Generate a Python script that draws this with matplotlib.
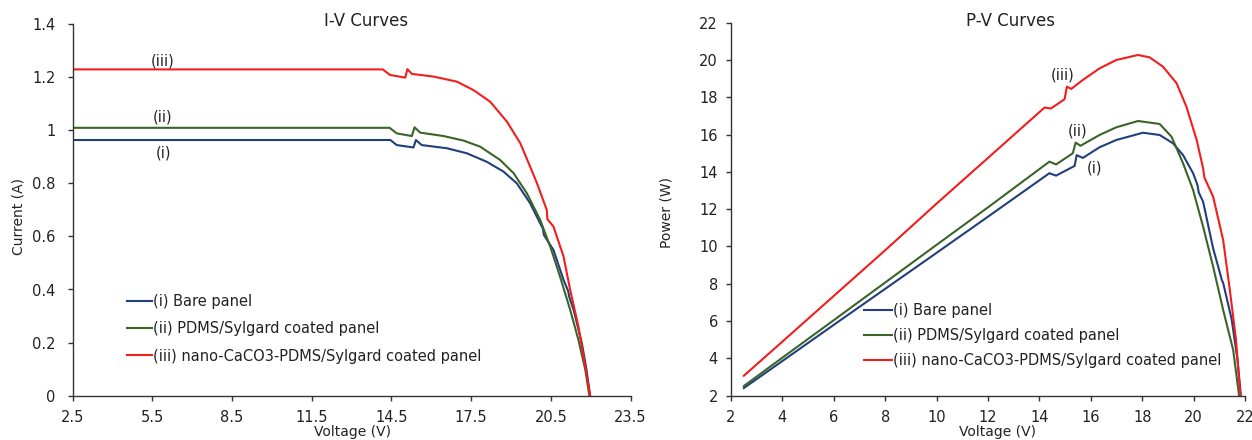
import matplotlib
matplotlib.use("Agg")
import matplotlib.pyplot as plt
from matplotlib.ticker import FuncFormatter

# ---------------- data ----------------
iv_bare_v = [2.5, 14.46, 14.7, 15.33, 15.42, 15.64, 16.59, 17.34, 18.09, 18.72, 19.22, 19.72,
             20.1, 20.2, 20.24, 20.6, 20.98, 21.15, 21.2, 21.36, 21.67, 21.84, 21.98]
iv_bare_i = [0.963, 0.963, 0.944, 0.935, 0.963, 0.944, 0.932, 0.913, 0.881, 0.844, 0.800, 0.725,
             0.649, 0.630, 0.605, 0.549, 0.436, 0.395, 0.37, 0.323, 0.197, 0.100, 0.0]

iv_pdms_v = [2.5, 14.43, 14.7, 15.27, 15.37, 15.58, 16.46, 17.21, 17.84, 18.59, 19.1, 19.6,
             20.1, 20.48, 20.85, 21.23, 21.54, 21.8, 21.95]
iv_pdms_i = [1.009, 1.009, 0.988, 0.978, 1.011, 0.991, 0.978, 0.961, 0.938, 0.888, 0.838, 0.762,
             0.662, 0.561, 0.448, 0.323, 0.210, 0.097, 0.0]

iv_nano_v = [2.5, 14.17, 14.45, 15.02, 15.1, 15.27, 16.08, 16.96, 17.59, 18.22, 18.85, 19.35,
             19.72, 19.98, 20.35, 20.37, 20.6, 20.98, 21.23, 21.54, 21.8, 21.98]
iv_nano_i = [1.229, 1.229, 1.208, 1.198, 1.230, 1.212, 1.202, 1.183, 1.151, 1.107, 1.032, 0.951,
             0.863, 0.800, 0.699, 0.665, 0.637, 0.524, 0.398, 0.260, 0.109, 0.0]

pv_bare_v = [2.5, 4, 6, 8, 10, 12, 14.39, 14.65, 15.37, 15.45, 15.69, 16.34, 16.99, 18.03, 18.68,
             19.2, 19.59, 19.98, 20.15, 20.2, 20.37, 20.76, 21.1, 21.15, 21.48, 21.71, 21.84]
pv_bare_p = [2.41, 3.86, 5.8, 7.73, 9.66, 11.6, 13.93, 13.8, 14.32, 14.9, 14.75, 15.32, 15.71, 16.1,
             15.98, 15.53, 14.9, 13.93, 13.3, 12.9, 12.4, 9.9, 8.2, 8.05, 6.1, 3.91, 2.0]

pv_pdms_v = [2.5, 4, 6, 8, 10, 12, 14.39, 14.65, 15.3, 15.41, 15.6, 16.34, 16.99, 17.84, 18.68,
             19.14, 19.59, 19.98, 20.37, 20.76, 21.15, 21.54, 21.77]
pv_pdms_p = [2.52, 4.04, 6.05, 8.07, 10.09, 12.1, 14.55, 14.4, 15.0, 15.57, 15.4, 15.98, 16.39,
             16.73, 16.57, 15.89, 14.46, 13.03, 11.06, 8.92, 6.6, 4.45, 2.0]

pv_nano_v = [2.5, 4, 6, 8, 10, 12, 14.2, 14.45, 14.98, 15.07, 15.24, 15.69, 16.34, 16.99, 17.84,
             18.29, 18.81, 19.34, 19.72, 20.12, 20.37, 20.42, 20.76, 21.15, 21.41, 21.65, 21.82]
pv_nano_p = [3.07, 4.9, 7.35, 9.8, 12.3, 14.75, 17.45, 17.4, 17.9, 18.57, 18.45, 18.93, 19.55, 20.0,
             20.27, 20.14, 19.64, 18.75, 17.5, 15.71, 14.19, 13.7, 12.67, 10.35, 7.67, 4.99, 2.0]

labels = ["(i) Bare panel", "(ii) PDMS/Sylgard coated panel",
          "(iii) nano-CaCO3-PDMS/Sylgard coated panel"]
iv_xticks = [2.5, 5.5, 8.5, 11.5, 14.5, 17.5, 20.5, 23.5]
iv_yticks = [0, 0.2, 0.4, 0.6, 0.8, 1.0, 1.2, 1.4]
pv_xticks = [2, 4, 6, 8, 10, 12, 14, 16, 18, 20, 22]
pv_yticks = [2, 4, 6, 8, 10, 12, 14, 16, 18, 20, 22]

# ---------------- style ----------------
W, H = 1252, 440
c_blue, c_green, c_red = "#203f7c", "#3a6428", "#f51c1c"
fs = 10.5
plt.rcParams["font.family"] = ["DejaVu Sans"]
plt.rcParams["text.color"] = "#222222"

fig = plt.figure(figsize=(W / 100, H / 100), dpi=100)

def box(x0, y0, x1, y1):
    return [x0 / W, 1 - y1 / H, (x1 - x0) / W, (y1 - y0) / H]

def fpt(x, y):
    return (x / W, 1 - y / H)

ax1 = fig.add_axes(box(72.7, 24, 630.5, 395.7))
ax2 = fig.add_axes(box(731, 22.7, 1245, 395.7))

fmt = FuncFormatter(lambda v, p: ("%g" % v))
for ax in (ax1, ax2):
    for s in ("top", "right"):
        ax.spines[s].set_visible(False)
    for s in ("left", "bottom"):
        ax.spines[s].set_color("#333333")
        ax.spines[s].set_linewidth(1.0)
    ax.tick_params(direction="out", length=3.5, width=1.0, color="#333333",
                   labelsize=fs, labelcolor="#222222")
    ax.tick_params(axis="x", pad=7)
    ax.xaxis.set_major_formatter(fmt)
    ax.yaxis.set_major_formatter(fmt)

lw = 1.5
# I-V
ax1.plot(iv_bare_v, iv_bare_i, color=c_blue, lw=lw, label=labels[0])
ax1.plot(iv_pdms_v, iv_pdms_i, color=c_green, lw=lw, label=labels[1])
ax1.plot(iv_nano_v, iv_nano_i, color=c_red, lw=lw, label=labels[2])
ax1.set_xlim(2.5, 23.5)
ax1.set_ylim(0, 1.4)
ax1.set_xticks(iv_xticks)
ax1.set_yticks(iv_yticks)
ax1.tick_params(axis="y", pad=9)
ax1.text(5.9, 1.262, "(iii)", ha="center", va="center", fontsize=fs)
ax1.text(5.9, 1.050, "(ii)", ha="center", va="center", fontsize=fs)
ax1.text(5.9, 0.915, "(i)", ha="center", va="center", fontsize=fs)

# P-V
ax2.plot(pv_bare_v, pv_bare_p, color=c_blue, lw=lw, label=labels[0])
ax2.plot(pv_pdms_v, pv_pdms_p, color=c_green, lw=lw, label=labels[1])
ax2.plot(pv_nano_v, pv_nano_p, color=c_red, lw=lw, label=labels[2])
ax2.set_xlim(2, 22)
ax2.set_ylim(2, 22)
ax2.set_xticks(pv_xticks)
ax2.set_yticks(pv_yticks)
ax2.tick_params(axis="y", pad=6)
ax2.text(14.91, 19.2, "(iii)", ha="center", va="center", fontsize=fs)
ax2.text(15.5, 16.2, "(ii)", ha="center", va="center", fontsize=fs)
ax2.text(16.15, 14.23, "(i)", ha="center", va="center", fontsize=fs)

# legends
ax1.legend(loc="upper left", bbox_to_anchor=fpt(126.7, 294), bbox_transform=fig.transFigure,
           frameon=False, fontsize=fs, handlelength=1.75, handletextpad=0.05,
           labelspacing=0.84, borderpad=0, borderaxespad=0)
ax2.legend(loc="upper left", bbox_to_anchor=fpt(864, 303), bbox_transform=fig.transFigure,
           frameon=False, fontsize=fs, handlelength=1.95, handletextpad=0.05,
           labelspacing=0.68, borderpad=0, borderaxespad=0)

# titles and axis labels
fig.text(*fpt(366, 21), "I-V Curves", ha="center", va="center", fontsize=12)
fig.text(*fpt(1010, 21), "P-V Curves", ha="center", va="center", fontsize=12)
fig.text(*fpt(18.3, 216), "Current (A)", ha="center", va="center", rotation=90, fontsize=10)
fig.text(*fpt(666.7, 212), "Power (W)", ha="center", va="center", rotation=90, fontsize=10)
fig.text(*fpt(352, 432), "Voltage (V)", ha="center", va="center", fontsize=10)
fig.text(*fpt(997.5, 432), "Voltage (V)", ha="center", va="center", fontsize=10)

fig.savefig("out.png", dpi=100)
